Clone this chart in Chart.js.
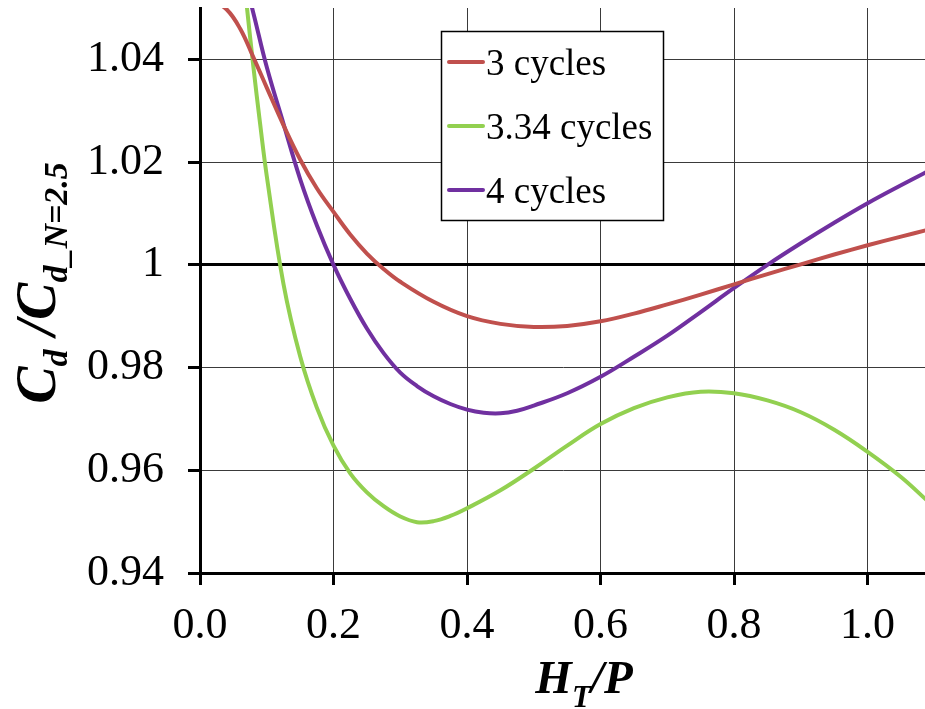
<!DOCTYPE html>
<html>
<head>
<meta charset="utf-8">
<script src="https://cdn.jsdelivr.net/npm/chart.js@4.4.1/dist/chart.umd.min.js"></script>
<style>
  html, body { margin: 0; padding: 0; background: #ffffff; }
  canvas { display: block; }
</style>
</head>
<body>
<canvas id="chart" width="925" height="709"></canvas>
<script>
// Series: drag-coefficient ratio against relative wave height, one per cycle count
const seriesLabels = ['3 cycles', '3.34 cycles', '4 cycles'];
const seriesColors = ['#C0504D', '#92D050', '#7030A0'];

const htp3 = [0.015, 0.04, 0.06, 0.08, 0.1, 0.125, 0.15, 0.175, 0.2, 0.225, 0.25, 0.275, 0.3, 0.35, 0.4, 0.45, 0.5, 0.55, 0.6, 0.65, 0.7, 0.75, 0.8, 0.85, 0.9, 0.95, 1.0, 1.05, 1.09];
const cd3  = [1.0518, 1.0497, 1.0460, 1.0404, 1.0345, 1.0272, 1.0205, 1.0149, 1.0103, 1.0059, 1.0022, 0.9992, 0.9967, 0.9928, 0.9900, 0.9885, 0.9879, 0.9881, 0.9890, 0.9905, 0.9923, 0.9942, 0.9962, 0.9982, 1.0001, 1.0020, 1.0038, 1.0055, 1.0068];

const htp334 = [0.06, 0.07, 0.08, 0.09, 0.1, 0.125, 0.15, 0.175, 0.2, 0.225, 0.25, 0.275, 0.3, 0.325, 0.35, 0.375, 0.4, 0.45, 0.5, 0.55, 0.6, 0.65, 0.7, 0.75, 0.8, 0.85, 0.9, 0.95, 1.0, 1.05, 1.09];
const cd334  = [1.0630, 1.0505, 1.0385, 1.0275, 1.0173, 0.9963, 0.9822, 0.9722, 0.9648, 0.9594, 0.9557, 0.9530, 0.9510, 0.9499, 0.9501, 0.9511, 0.9526, 0.9561, 0.9603, 0.9648, 0.9690, 0.9721, 0.9742, 0.9753, 0.9750, 0.9736, 0.9713, 0.9679, 0.9636, 0.9587, 0.9540];

const htp4 = [0.06, 0.08, 0.1, 0.125, 0.15, 0.175, 0.2, 0.225, 0.25, 0.275, 0.3, 0.325, 0.35, 0.375, 0.4, 0.425, 0.45, 0.475, 0.5, 0.55, 0.6, 0.65, 0.7, 0.75, 0.8, 0.85, 0.9, 0.95, 1.0, 1.05, 1.09];
const cd4  = [1.0590, 1.0490, 1.0385, 1.0275, 1.0167, 1.0077, 1.0000, 0.9934, 0.9876, 0.9828, 0.9790, 0.9764, 0.9744, 0.9729, 0.9718, 0.9712, 0.9711, 0.9716, 0.9726, 0.9750, 0.9782, 0.9821, 0.9862, 0.9908, 0.9955, 1.0000, 1.0042, 1.0082, 1.0120, 1.0155, 1.0182];

// Axis ticks
const xTickValues = [0.0, 0.2, 0.4, 0.6, 0.8, 1.0];
const xTickLabels = ['0.0', '0.2', '0.4', '0.6', '0.8', '1.0'];
const yTickValues = [0.94, 0.96, 0.98, 1.00, 1.02, 1.04];
const yTickLabels = ['0.94', '0.96', '0.98', '1', '1.02', '1.04'];

const xRange = [0, 1.086];
const yRange = [0.94, 1.05];

const toPoints = (xs, ys) => xs.map((x, i) => ({ x: x, y: ys[i] }));
const seriesData = [toPoints(htp3, cd3), toPoints(htp334, cd334), toPoints(htp4, cd4)];

const serif = '"Liberation Serif", "Times New Roman", serif';

// Draws a run of text pieces (with lowered subscripts) left to right from (x, y)
function drawRun(ctx, parts, x, y) {
  parts.forEach(p => {
    ctx.font = p.font;
    ctx.fillText(p.t, x, y + (p.dy || 0));
    x += ctx.measureText(p.t).width;
  });
}
function runWidth(ctx, parts) {
  let w = 0;
  parts.forEach(p => { ctx.font = p.font; w += ctx.measureText(p.t).width; });
  return w;
}

const annotations = {
  id: 'annotations',
  afterDraw(chart) {
    const ctx = chart.ctx;
    ctx.save();
    ctx.fillStyle = '#000';
    ctx.textBaseline = 'alphabetic';
    ctx.textAlign = 'left';

    // x-axis title: H_T / P
    const xMain = 'bold italic 47px ' + serif;
    const xSub = 'bold italic 31px ' + serif;
    const xParts = [
      { t: 'H', font: xMain },
      { t: 'T', font: xSub, dy: 14 },
      { t: '/P', font: xMain }
    ];
    const xw = runWidth(ctx, xParts);
    drawRun(ctx, xParts, 584 - xw / 2, 693);

    // y-axis title: C_d / C_d_N=2.5, rotated
    const yMain = 'bold italic 56px ' + serif;
    const ySub = 'bold italic 34px ' + serif;
    const yParts = [
      { t: 'C', font: yMain },
      { t: 'd', font: ySub, dy: 12 },
      { t: ' /', font: yMain },
      { t: 'C', font: yMain },
      { t: 'd_N=2.5', font: ySub, dy: 12 }
    ];
    const yw = runWidth(ctx, yParts);
    ctx.save();
    ctx.translate(55, 283);
    ctx.rotate(-Math.PI / 2);
    drawRun(ctx, yParts, -yw / 2, 0);
    ctx.restore();

    // boxed legend inside the plot
    ctx.fillStyle = '#ffffff';
    ctx.fillRect(441, 31, 223, 190);
    ctx.strokeStyle = '#000';
    ctx.lineWidth = 1.5;
    ctx.strokeRect(441.5, 31.5, 222, 189);
    chart.data.datasets.forEach((ds, i) => {
      const y = 62 + i * 64;
      ctx.strokeStyle = ds.borderColor;
      ctx.lineWidth = 4;
      ctx.lineCap = 'round';
      ctx.beginPath();
      ctx.moveTo(449, y);
      ctx.lineTo(483, y);
      ctx.stroke();
      ctx.fillStyle = '#000';
      ctx.font = '37px ' + serif;
      ctx.fillText(ds.label, 486, y + 13);
    });
    ctx.restore();
  }
};

const isClose = (a, b) => Math.abs(a - b) < 1e-9;

new Chart(document.getElementById('chart'), {
  type: 'line',
  data: {
    datasets: seriesData.map((pts, i) => ({
      label: seriesLabels[i],
      data: pts,
      borderColor: seriesColors[i],
      backgroundColor: seriesColors[i],
      borderWidth: 4,
      pointRadius: 0,
      fill: false,
      tension: 0.4,
      clip: 0
    }))
  },
  options: {
    responsive: false,
    animation: false,
    devicePixelRatio: 1,
    layout: { padding: { top: 8, right: 0, left: 0, bottom: 0 } },
    plugins: {
      legend: { display: false },
      tooltip: { enabled: false },
      title: { display: false }
    },
    scales: {
      x: {
        type: 'linear',
        min: xRange[0],
        max: xRange[1],
        afterBuildTicks: s => { s.ticks = xTickValues.map(v => ({ value: v })); },
        afterFit: s => { s.height = 136; s.paddingLeft = 0; s.paddingRight = 0; },
        ticks: {
          autoSkip: false,
          maxRotation: 0,
          padding: 15,
          color: '#000',
          font: { family: serif, size: 44 },
          callback: (v, i) => xTickLabels[i]
        },
        grid: {
          color: c => (c.index === 0 ? 'rgba(0,0,0,0)' : '#3a3a3a'),
          lineWidth: 1,
          tickLength: 12,
          tickColor: '#000',
          tickWidth: 3
        },
        border: { display: true, color: '#000', width: 3 },
        title: { display: false }
      },
      y: {
        type: 'linear',
        min: yRange[0],
        max: yRange[1],
        afterBuildTicks: s => { s.ticks = yTickValues.map(v => ({ value: v })); },
        afterFit: s => { s.width = 200; s.paddingTop = 0; s.paddingBottom = 0; },
        ticks: {
          autoSkip: false,
          padding: 24,
          color: '#000',
          font: { family: serif, size: 44 },
          callback: (v, i) => yTickLabels[i]
        },
        grid: {
          color: c => {
            if (c.index === 0) return 'rgba(0,0,0,0)';
            return (c.tick && isClose(c.tick.value, 1)) ? '#000' : '#3a3a3a';
          },
          lineWidth: c => (c.tick && isClose(c.tick.value, 1)) ? 3 : 1,
          tickLength: 12,
          tickColor: '#000',
          tickWidth: 3
        },
        border: { display: true, color: '#000', width: 3 },
        title: { display: false }
      }
    }
  },
  plugins: [annotations]
});
</script>
</body>
</html>
